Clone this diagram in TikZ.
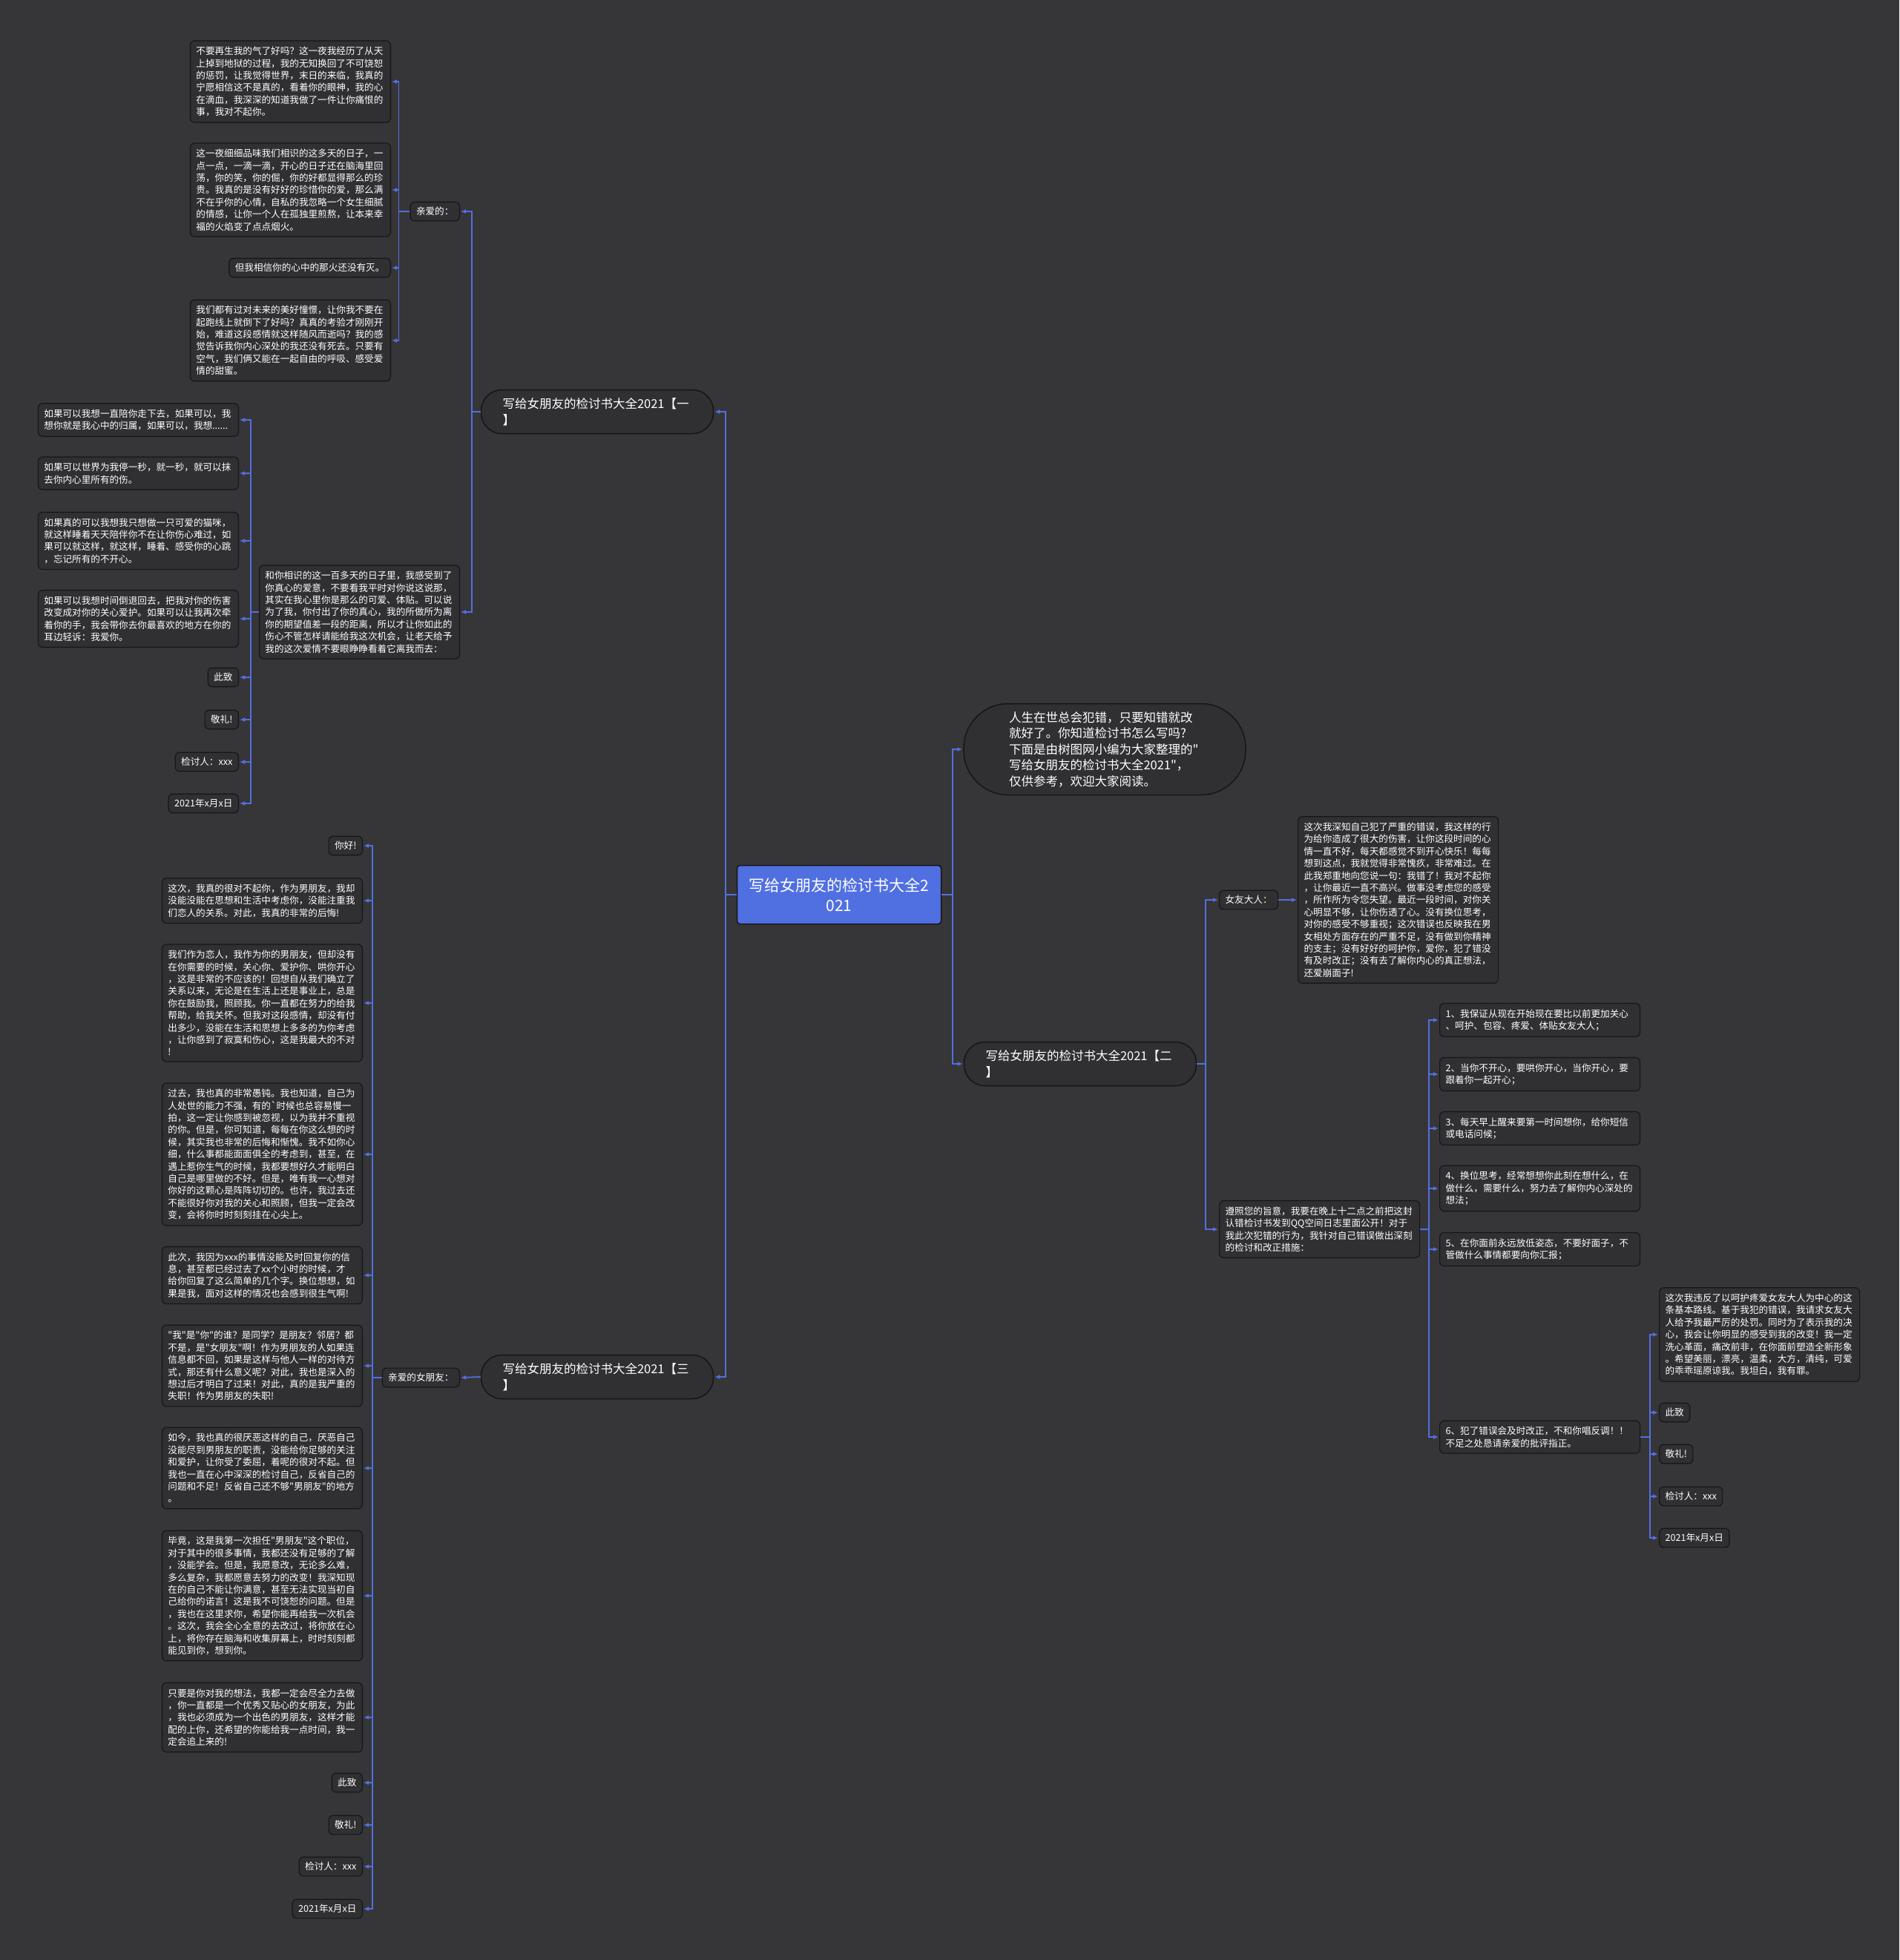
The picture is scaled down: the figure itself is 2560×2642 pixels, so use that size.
\documentclass[tikz,border=0pt]{standalone}
\usepackage{fontspec}
\setmainfont{Noto Sans CJK SC}[Ligatures=TeXOff]
\usetikzlibrary{arrows.meta}
\definecolor{bgc}{RGB}{54,53,56}
\definecolor{boxc}{RGB}{48,47,50}
\definecolor{edgec}{RGB}{22,22,24}
\definecolor{linkc}{RGB}{82,112,222}
\definecolor{rootc}{RGB}{80,112,226}
\newcommand\leaffont{\fontsize{12.6}{16.4}\selectfont}
\newcommand\pillfont{\fontsize{16.5}{21.5}\selectfont}
\newcommand\rootfont{\fontsize{21}{27}\selectfont}
\tikzset{
  leaf/.style={draw=edgec, line width=1.2pt, fill=boxc, rounded corners=6pt, text=white,
    font=\leaffont, align=left, text width=254pt, inner xsep=8pt, inner ysep=8pt},
  tag/.style={draw=edgec, line width=1.2pt, fill=boxc, rounded corners=6pt, text=white,
    font=\leaffont, inner xsep=8pt, inner ysep=7pt},
  pill/.style={draw=edgec, line width=1.5pt, fill=boxc, rounded corners=28pt, text=white,
    font=\pillfont, align=left, text width=255pt, minimum width=313pt, minimum height=59pt},
  rootbox/.style={draw=edgec, line width=1.5pt, fill=rootc, rounded corners=4pt, text=white,
    font=\rootfont, align=center, minimum width=275pt, minimum height=79pt},
  link/.style={draw=linkc, line width=1.8pt, -{Latex[length=7pt,width=6pt]}, shorten >=1pt}
}
\begin{document}
\begin{tikzpicture}[x=1pt, y=-1pt]
\fill[bgc] (0,0) rectangle (2560,2642);
\useasboundingbox (0,0) rectangle (2560,2642);

% centre
\node[rootbox] (root) at (1131,1206) {写给女朋友的检讨书大全2\\021};

% first level
\node[pill] (p1) at (805,555) {写给女朋友的检讨书大全2021【一\\】};
\node[pill] (p3) at (805,1856) {写给女朋友的检讨书大全2021【三\\】};
\node[pill] (p2) at (1456,1434) {写给女朋友的检讨书大全2021【二\\】};
\node[pill, rounded corners=60pt, text width=258pt, minimum width=380pt, minimum height=123pt] (intro) at (1489,1010)
  {人生在世总会犯错，只要知错就改\\就好了。你知道检讨书怎么写吗?\\下面是由树图网小编为大家整理的"\\写给女朋友的检讨书大全2021"，\\仅供参考，欢迎大家阅读。};

% branch one
\node[tag, anchor=east] (kq) at (620,285) {亲爱的：};
\node[leaf, anchor=east] (k1) at (527,110) {不要再生我的气了好吗？这一夜我经历了从天\\上掉到地狱的过程，我的无知换回了不可饶恕\\的惩罚，让我觉得世界，末日的来临，我真的\\宁愿相信这不是真的，看着你的眼神，我的心\\在滴血，我深深的知道我做了一件让你痛恨的\\事，我对不起你。};
\node[leaf, anchor=east] (k2) at (527,256) {这一夜细细品味我们相识的这多天的日子，一\\点一点，一滴一滴，开心的日子还在脑海里回\\荡，你的笑，你的倔，你的好都显得那么的珍\\贵。我真的是没有好好的珍惜你的爱，那么满\\不在乎你的心情，自私的我忽略一个女生细腻\\的情感，让你一个人在孤独里煎熬，让本来幸\\福的火焰变了点点烟火。};
\node[tag, anchor=east] (k3) at (527,361) {但我相信你的心中的那火还没有灭。};
\node[leaf, anchor=east] (k4) at (527,459) {我们都有过对未来的美好憧憬，让你我不要在\\起跑线上就倒下了好吗？真真的考验才刚刚开\\始，难道这段感情就这样随风而逝吗？我的感\\觉告诉我你内心深处的我还没有死去。只要有\\空气，我们俩又能在一起自由的呼吸、感受爱\\情的甜蜜。};

\node[leaf, anchor=east] (h) at (620,825) {和你相识的这一百多天的日子里，我感受到了\\你真心的爱意，不要看我平时对你说这说那，\\其实在我心里你是那么的可爱、体贴。可以说\\为了我，你付出了你的真心，我的所做所为离\\你的期望值差一段的距离，所以才让你如此的\\伤心不管怎样请能给我这次机会，让老天给予\\我的这次爱情不要眼睁睁看着它离我而去：};
\node[leaf, anchor=east] (h1) at (322,566) {如果可以我想一直陪你走下去，如果可以，我\\想你就是我心中的归属，如果可以，我想......};
\node[leaf, anchor=east] (h2) at (322,638) {如果可以世界为我停一秒，就一秒，就可以抹\\去你内心里所有的伤。};
\node[leaf, anchor=east] (h3) at (322,729) {如果真的可以我想我只想做一只可爱的猫咪，\\就这样睡着天天陪伴你不在让你伤心难过，如\\果可以就这样，就这样，睡着、感受你的心跳\\，忘记所有的不开心。};
\node[leaf, anchor=east] (h4) at (322,834) {如果可以我想时间倒退回去，把我对你的伤害\\改变成对你的关心爱护。如果可以让我再次牵\\着你的手，我会带你去你最喜欢的地方在你的\\耳边轻诉：我爱你。};
\node[tag, anchor=east] (h5) at (322,913) {此致};
\node[tag, anchor=east] (h6) at (322,970) {敬礼!};
\node[tag, anchor=east] (h7) at (322,1027) {检讨人：xxx};
\node[tag, anchor=east] (h8) at (322,1083) {2021年x月x日};

% branch three
\node[tag, anchor=east] (nv) at (620,1857) {亲爱的女朋友：};
\node[tag, anchor=east] (b0) at (489,1140) {你好!};
\node[leaf, anchor=east] (b1) at (489,1214) {这次，我真的很对不起你，作为男朋友，我却\\没能没能在思想和生活中考虑你，没能注重我\\们恋人的关系。对此，我真的非常的后悔!};
\node[leaf, anchor=east] (b2) at (489,1352) {我们作为恋人，我作为你的男朋友，但却没有\\在你需要的时候，关心你、爱护你、哄你开心\\，这是非常的不应该的！回想自从我们确立了\\关系以来，无论是在生活上还是事业上，总是\\你在鼓励我，照顾我。你一直都在努力的给我\\帮助，给我关怀。但我对这段感情，却没有付\\出多少，没能在生活和思想上多多的为你考虑\\，让你感到了寂寞和伤心，这是我最大的不对\\!};
\node[leaf, anchor=east] (b3) at (489,1556) {过去，我也真的非常愚钝。我也知道，自己为\\人处世的能力不强，有的\textasciigrave 时候也总容易慢一\\拍，这一定让你感到被忽视，以为我并不重视\\的你。但是，你可知道，每每在你这么想的时\\候，其实我也非常的后悔和惭愧。我不如你心\\细，什么事都能面面俱全的考虑到，甚至，在\\遇上惹你生气的时候，我都要想好久才能明白\\自己是哪里做的不好。但是，唯有我一心想对\\你好的这颗心是阵阵切切的。也许，我过去还\\不能很好你对我的关心和照顾，但我一定会改\\变，会将你时时刻刻挂在心尖上。};
\node[leaf, anchor=east] (b4) at (489,1719) {此次，我因为xxx的事情没能及时回复你的信\\息，甚至都已经过去了xx个小时的时候，才\\给你回复了这么简单的几个字。换位想想，如\\果是我，面对这样的情况也会感到很生气啊!};
\node[leaf, anchor=east] (b5) at (489,1841) {"我"是"你"的谁？是同学？是朋友？邻居？都\\不是，是"女朋友"啊！作为男朋友的人如果连\\信息都不回，如果是这样与他人一样的对待方\\式，那还有什么意义呢？对此，我也是深入的\\想过后才明白了过来！对此，真的是我严重的\\失职！作为男朋友的失职!};
\node[leaf, anchor=east] (b6) at (489,1979) {如今，我也真的很厌恶这样的自己，厌恶自己\\没能尽到男朋友的职责，没能给你足够的关注\\和爱护，让你受了委屈，着呢的很对不起。但\\我也一直在心中深深的检讨自己，反省自己的\\问题和不足！反省自己还不够"男朋友"的地方\\。};
\node[leaf, anchor=east] (b7) at (489,2151) {毕竟，这是我第一次担任"男朋友"这个职位，\\对于其中的很多事情，我都还没有足够的了解\\，没能学会。但是，我愿意改，无论多么难，\\多么复杂，我都愿意去努力的改变！我深知现\\在的自己不能让你满意，甚至无法实现当初自\\己给你的诺言！这是我不可饶恕的问题。但是\\，我也在这里求你，希望你能再给我一次机会\\。这次，我会全心全意的去改过，将你放在心\\上，将你存在脑海和收集屏幕上，时时刻刻都\\能见到你，想到你。};
\node[leaf, anchor=east] (b8) at (489,2315) {只要是你对我的想法，我都一定会尽全力去做\\，你一直都是一个优秀又贴心的女朋友，为此\\，我也必须成为一个出色的男朋友，这样才能\\配的上你，还希望的你能给我一点时间，我一\\定会追上来的!};
\node[tag, anchor=east] (b9) at (489,2403) {此致};
\node[tag, anchor=east] (b10) at (489,2460) {敬礼!};
\node[tag, anchor=east] (b11) at (489,2516) {检讨人：xxx};
\node[tag, anchor=east] (b12) at (489,2573) {2021年x月x日};

% branch two
\node[tag, anchor=west] (gf) at (1643,1213) {女友大人：};
\node[leaf, anchor=west] (gft) at (1749,1213) {这次我深知自己犯了严重的错误，我这样的行\\为给你造成了很大的伤害，让你这段时间的心\\情一直不好，每天都感觉不到开心快乐！每每\\想到这点，我就觉得非常愧疚，非常难过。在\\此我郑重地向您说一句：我错了！我对不起你\\，让你最近一直不高兴。做事没考虑您的感受\\，所作所为令您失望。最近一段时间，对你关\\心明显不够，让你伤透了心。没有换位思考，\\对你的感受不够重视；这次错误也反映我在男\\女相处方面存在的严重不足，没有做到你精神\\的支主；没有好好的呵护你，爱你，犯了错没\\有及时改正；没有去了解你内心的真正想法，\\还爱崩面子!};
\node[leaf, anchor=west] (zz) at (1643,1657) {遵照您的旨意，我要在晚上十二点之前把这封\\认错检讨书发到QQ空间日志里面公开！对于\\我此次犯错的行为，我针对自己错误做出深刻\\的检讨和改正措施：};
\node[leaf, anchor=west] (c1) at (1940,1375) {1、我保证从现在开始现在要比以前更加关心\\、呵护、包容、疼爱、体贴女友大人；};
\node[leaf, anchor=west] (c2) at (1940,1448) {2、当你不开心，要哄你开心，当你开心，要\\跟着你一起开心；};
\node[leaf, anchor=west] (c3) at (1940,1521) {3、每天早上醒来要第一时间想你，给你短信\\或电话问候；};
\node[leaf, anchor=west] (c4) at (1940,1602) {4、换位思考，经常想想你此刻在想什么，在\\做什么，需要什么，努力去了解你内心深处的\\想法；};
\node[leaf, anchor=west] (c5) at (1940,1684) {5、在你面前永远放低姿态，不要好面子，不\\管做什么事情都要向你汇报；};
\node[leaf, anchor=west] (c6) at (1940,1937) {6、犯了错误会及时改正，不和你唱反调！！\\不足之处恳请亲爱的批评指正。};
\node[leaf, anchor=west] (d1) at (2236,1799) {这次我违反了以呵护疼爱女友大人为中心的这\\条基本路线。基于我犯的错误，我请求女友大\\人给予我最严厉的处罚。同时为了表示我的决\\心，我会让你明显的感受到我的改变！我一定\\洗心革面，痛改前非，在你面前塑造全新形象\\。希望美丽，漂亮，温柔，大方，清纯，可爱\\的乖乖瑶原谅我。我坦白，我有罪。};
\node[tag, anchor=west] (d2) at (2236,1904) {此致};
\node[tag, anchor=west] (d3) at (2236,1960) {敬礼!};
\node[tag, anchor=west] (d4) at (2236,2017) {检讨人：xxx};
\node[tag, anchor=west] (d5) at (2236,2073) {2021年x月x日};

% connectors
\foreach \n in {p1,p3} \draw[link] (root.west) -- ++(-15,0) |- (\n.east);
\foreach \n in {intro,p2} \draw[link] (root.east) -- ++(15,0) |- (\n.west);
\foreach \n in {kq,h} \draw[link] (p1.west) -- ++(-12,0) |- (\n.east);
\foreach \n in {k1,k2,k3,k4} \draw[link] (kq.west) -- ++(-15,0) |- (\n.east);
\foreach \n in {h1,h2,h3,h4,h5,h6,h7,h8} \draw[link] (h.west) -- ++(-11,0) |- (\n.east);
\draw[link] (p3.west) -- (nv.east);
\foreach \n in {b0,b1,b2,b3,b4,b5,b6,b7,b8,b9,b10,b11,b12} \draw[link] (nv.west) -- ++(-13,0) |- (\n.east);
\foreach \n in {gf,zz} \draw[link] (p2.east) -- ++(12,0) |- (\n.west);
\draw[link] (gf.east) -- (gft.west);
\foreach \n in {c1,c2,c3,c4,c5,c6} \draw[link] (zz.east) -- ++(12,0) |- (\n.west);
\foreach \n in {d1,d2,d3,d4,d5} \draw[link] (c6.east) -- ++(13,0) |- (\n.west);
\end{tikzpicture}
\end{document}
